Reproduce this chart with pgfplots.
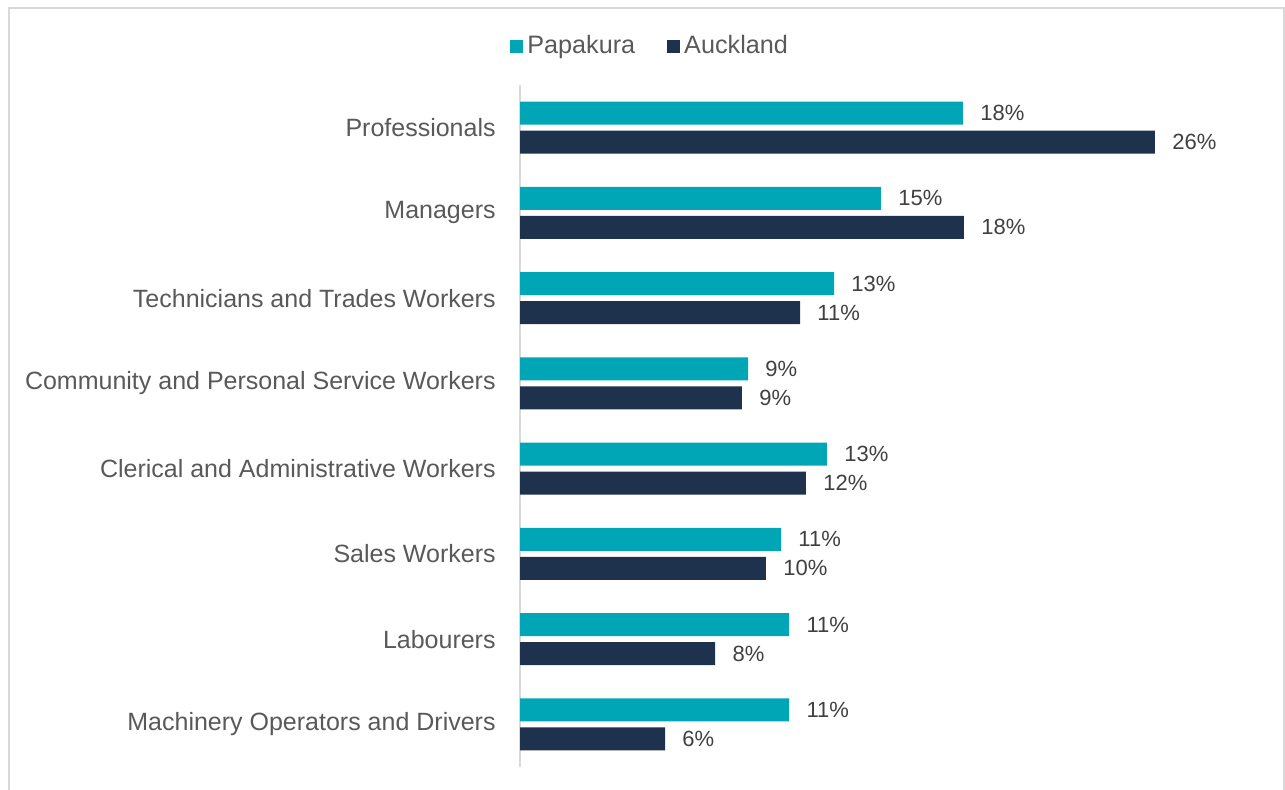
\documentclass[border=0pt]{standalone}
\usepackage{pgfplots}
\pgfplotsset{compat=1.18}
\usepackage{fontspec}
\setmainfont{Liberation Sans}
\definecolor{papa}{RGB}{0,166,181}
\definecolor{auck}{RGB}{30,49,77}
\definecolor{txt}{RGB}{89,89,89}
\definecolor{lbl}{RGB}{64,64,64}
\definecolor{brd}{RGB}{217,217,217}
\begin{document}
\begin{tikzpicture}
\useasboundingbox (0,0) rectangle (642.5pt,394.5pt);
\draw[brd, line width=1pt] (4.5pt,-5pt) -- (4.5pt,390.5pt) -- (641.75pt,390.5pt) -- (641.75pt,-5pt);
\begin{axis}[
  at={(260pt,11pt)}, anchor=south west,
  scale only axis, width=366.3pt, height=341pt,
  xbar, bar width=11.5pt,
  xmin=0, xmax=30, ymin=-0.5, ymax=7.5,
  axis x line=none,
  axis y line*=left,
  axis line style={brd, line width=1pt, -},
  ytick={0,1,2,3,4,5,6,7},
  yticklabels={Machinery Operators and Drivers, Labourers, Sales Workers, Clerical and Administrative Workers, Community and Personal Service Workers, Technicians and Trades Workers, Managers, Professionals},
  major tick length=0pt,
  ytick style={draw=none},
  yticklabel style={font=\fontsize{12.5}{14}\selectfont, text=txt, inner sep=0pt, xshift=-12pt},
  point meta=x,
  nodes near coords={\pgfmathprintnumber[fixed,precision=0,assume math mode=true]{\pgfplotspointmeta}\%},
  nodes near coords style={anchor=west, inner sep=0pt, xshift=8.5pt, font=\fontsize{11}{13}\selectfont, text=lbl},
  legend style={at={(0.179,1)}, anchor=center, yshift=19.5pt, draw=none, fill=none,
    font=\fontsize{12.6}{14}\selectfont, text=txt,
    /tikz/every even column/.append style={column sep=14pt}},
  legend columns=2,
  legend image code/.code={\fill[#1] (0pt,-3.25pt) rectangle (6.5pt,3.25pt);},
  clip=false,
]
\addplot[bar shift=7.25pt, fill=papa, draw=none]
  coordinates {(11.02,0) (11.02,1) (10.69,2) (12.57,3) (9.34,4) (12.86,5) (14.78,6) (18.14,7)};
\addlegendentry{Papakura}
\addplot[bar shift=-7.25pt, fill=auck, draw=none]
  coordinates {(5.94,0) (7.99,1) (10.07,2) (11.71,3) (9.09,4) (11.47,5) (18.18,6) (26.0,7)};
\addlegendentry{Auckland}
\end{axis}
\end{tikzpicture}
\end{document}
